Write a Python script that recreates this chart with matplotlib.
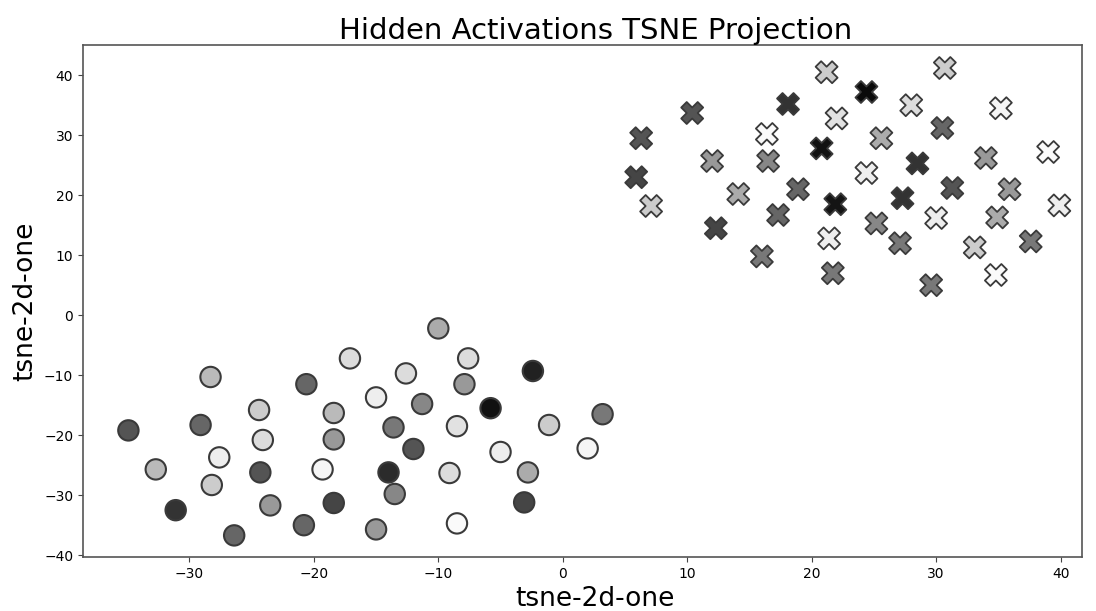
import matplotlib.pyplot as plt
import numpy as np

# 2-D t-SNE coordinates of hidden activations, one array per class
circle_x = [-34.9, -32.7, -31.1, -29.1, -28.3, -28.2, -27.6, -26.4, -24.4, -24.3,
            -24.1, -23.5, -20.8, -20.6, -19.3, -18.4, -18.4, -18.4, -17.1, -15.0,
            -15.0, -14.0, -13.6, -13.5, -12.6, -12.0, -11.3, -10.0, -9.1, -8.5,
            -8.5, -7.9, -7.6, -5.8, -5.0, -2.8, -3.1, -2.4, -1.1, 2.0, 3.2]
circle_y = [-19.2, -25.7, -32.5, -18.3, -10.3, -28.3, -23.7, -36.7, -15.8, -26.2,
            -20.8, -31.7, -35.0, -11.5, -25.7, -16.3, -20.7, -31.3, -7.2, -13.7,
            -35.7, -26.2, -18.7, -29.8, -9.7, -22.3, -14.8, -2.2, -26.3, -18.5,
            -34.7, -11.5, -7.2, -15.5, -22.8, -26.2, -31.2, -9.3, -18.3, -22.2, -16.5]
# grey level of each point (0 = black, 1 = white)
circle_shade = [0.33, 0.73, 0.20, 0.40, 0.73, 0.80, 0.93, 0.40, 0.80, 0.33,
                0.86, 0.60, 0.40, 0.40, 0.96, 0.73, 0.60, 0.27, 0.86, 0.93,
                0.60, 0.17, 0.47, 0.53, 0.86, 0.33, 0.53, 0.67, 0.86, 0.88,
                0.98, 0.60, 0.86, 0.07, 0.93, 0.67, 0.27, 0.13, 0.80, 0.96, 0.47]

cross_x = [21.2, 18.1, 10.4, 22.0, 16.4, 6.3, 20.8, 12.0, 16.5, 5.9,
           14.1, 18.9, 21.9, 7.1, 17.3, 12.3, 21.4, 16.0, 21.7,
           30.7, 24.4, 28.0, 35.2, 30.5, 25.6, 39.0, 34.0, 28.5, 24.4,
           31.3, 35.9, 27.3, 39.9, 30.0, 34.9, 25.2, 27.1, 37.6, 33.1, 34.8, 29.6]
cross_y = [40.5, 35.2, 33.7, 32.8, 30.2, 29.5, 27.8, 25.7, 25.7, 23.0,
           20.2, 21.0, 18.5, 18.2, 16.7, 14.5, 12.8, 9.8, 7.0,
           41.2, 37.2, 35.0, 34.5, 31.2, 29.5, 27.2, 26.2, 25.3, 23.7,
           21.2, 21.0, 19.5, 18.3, 16.2, 16.3, 15.3, 12.0, 12.3, 11.3, 6.7, 5.0]
cross_shade = [0.80, 0.20, 0.33, 0.88, 0.98, 0.33, 0.07, 0.60, 0.53, 0.27,
               0.67, 0.40, 0.08, 0.80, 0.40, 0.27, 0.93, 0.47, 0.47,
               0.80, 0.04, 0.86, 0.96, 0.40, 0.67, 0.98, 0.60, 0.20, 0.93,
               0.33, 0.60, 0.20, 0.93, 0.93, 0.67, 0.53, 0.47, 0.47, 0.80, 0.98, 0.47]

fig = plt.figure(figsize=(10.96, 6.11), dpi=100)
ax = fig.add_axes([0.0757, 0.0884, 0.9113, 0.8376])

ax.scatter(circle_x, circle_y, c=circle_shade, cmap="gray", vmin=0, vmax=1,
           marker="o", s=215, edgecolors="#3a3a3a", linewidths=1.5)
ax.scatter(cross_x, cross_y, c=cross_shade, cmap="gray", vmin=0, vmax=1,
           marker="X", s=250, edgecolors="#3a3a3a", linewidths=1.3)

ax.set_xlim(-38.55, 41.7)
ax.set_ylim(-40.3, 45.0)
ax.set_xticks(np.arange(-30, 41, 10))
ax.set_yticks(np.arange(-40, 41, 10))
ax.tick_params(labelsize=10, length=3.5, color="#444444")
for spine in ax.spines.values():
    spine.set_color("#555555")
    spine.set_linewidth(1.2)

ax.set_title("Hidden Activations TSNE Projection", fontsize=21, pad=3, x=0.513)
ax.set_xlabel("tsne-2d-one", fontsize=19)
ax.xaxis.set_label_coords(0.513, -0.056)
ax.set_ylabel("tsne-2d-one", fontsize=19, labelpad=4)

fig.savefig("out.png", dpi=100, facecolor="white")
